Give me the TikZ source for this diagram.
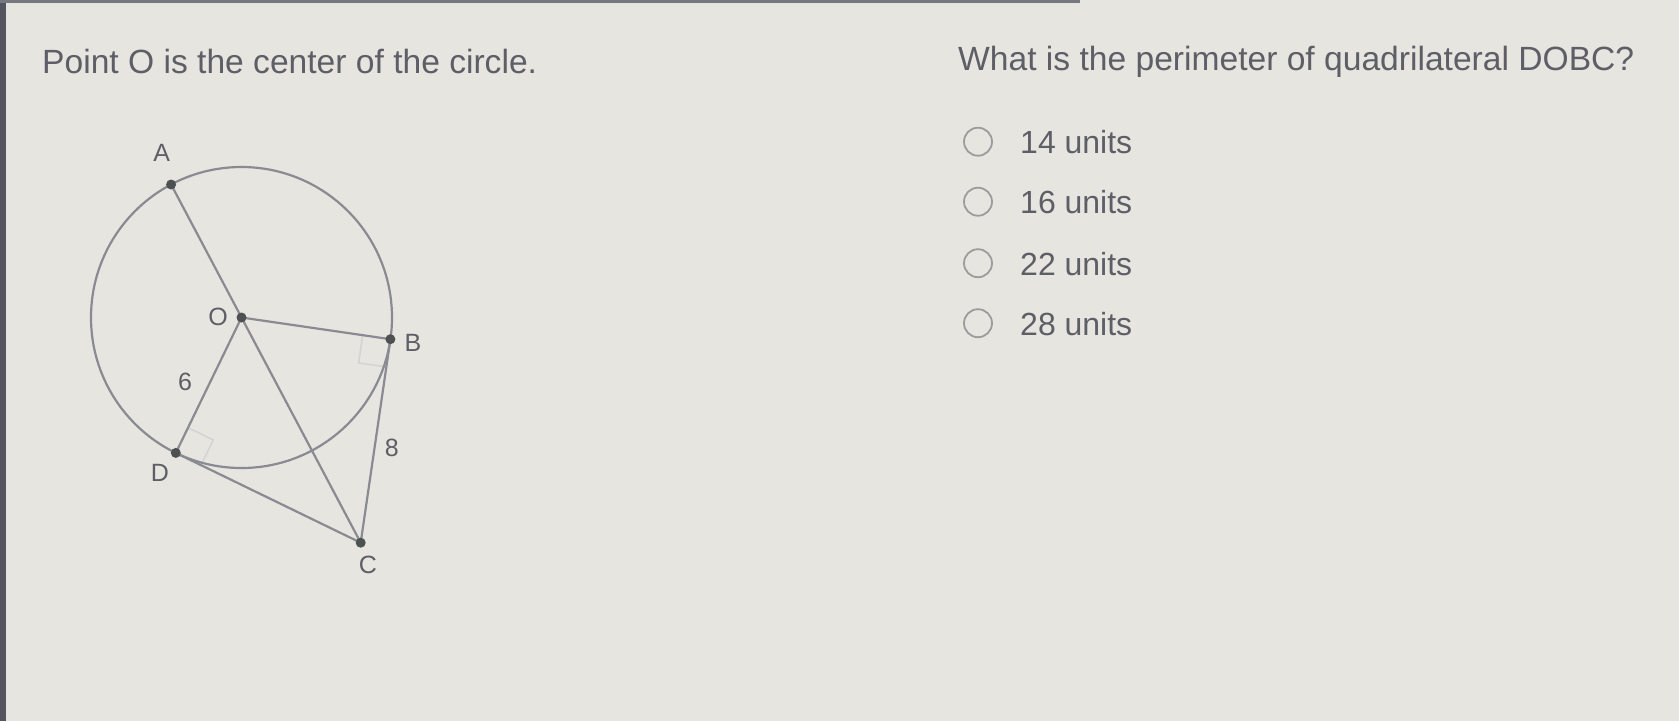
\documentclass[tikz,border=0pt]{standalone}
\usepackage{fontspec}
\setmainfont{Liberation Sans}
\usetikzlibrary{calc}
\definecolor{bgcol}{HTML}{E7E5E0}
\definecolor{txtcol}{HTML}{5E5E66}
\definecolor{linecol}{HTML}{8A8A93}
\definecolor{dotcol}{HTML}{4E5152}
\definecolor{radiocol}{HTML}{9C9C9C}
\definecolor{edgecol}{HTML}{55555F}
\begin{document}
\begin{tikzpicture}[x=1pt,y=-1pt,
        seg/.style={draw=linecol,line width=2.2pt},
        vertex/.style={circle,fill=dotcol,inner sep=0pt,minimum size=10pt},
        lbl/.style={text=txtcol,font=\fontsize{25}{29}\selectfont,inner sep=0pt},
        question/.style={text=txtcol,font=\fontsize{33.6}{40}\selectfont,anchor=base west,inner sep=0pt},
        choice/.style={text=txtcol,font=\fontsize{32}{38}\selectfont,anchor=base west,inner sep=0pt},
        radio/.style={circle,draw=radiocol,line width=1.8pt,minimum size=28pt,inner sep=0pt},
        rightangle/.style={draw=black!17,line width=1.6pt}]
    \fill[bgcol] (0,0) rectangle (1679,721);
    \fill[edgecol] (0,0) rectangle (6,721);
    \fill[edgecol!80] (0,0) rectangle (1080,2.5);

    \coordinate (O) at (241.5,317.5);
    \coordinate (A) at (171.1,184.5);
    \coordinate (B) at (390.4,339.2);
    \coordinate (D) at (175.8,452.9);
    \coordinate (C) at (360.7,542.7);

    \draw[rightangle] ($(B)!28pt!(O)$) -- ($(B)!28pt!(O)+(B)!28pt!(C)-(B)$) -- ($(B)!28pt!(C)$);
    \draw[rightangle] ($(D)!28pt!(O)$) -- ($(D)!28pt!(O)+(D)!28pt!(C)-(D)$) -- ($(D)!28pt!(C)$);

    \draw[seg] (O) circle[radius=150.5pt];
    \draw[seg] (A) -- (C);
    \draw[seg] (O) -- (B) -- (C) -- (D) -- (O);

    \foreach \p in {A,O,B,D,C}
        \node[vertex] at (\p) {};

    \node[lbl] (labA) at (161.7,153.3) {A};
    \node[lbl] (labO) at (218,316.7) {O};
    \node[lbl] (labB) at (413,343) {B};
    \node[lbl] (labD) at (160,473) {D};
    \node[lbl] (labC) at (368,565) {C};
    \node[lbl] (len6) at (185,381.7) {6};
    \node[lbl] (len8) at (391.7,448) {8};

    \node[question] (given) at (42,73) {Point O is the center of the circle.};
    \node[question] (ask) at (958,70) {What is the perimeter of quadrilateral DOBC?};

    \foreach \y/\v [count=\i] in {153.5/14,213.5/16,275/22,335/28} {
        \node[radio] (r\i) at (978,\y-11.8) {};
        \node[choice] (c\i) at (1020,\y) {\v\ units};
    }
\end{tikzpicture}
\end{document}
